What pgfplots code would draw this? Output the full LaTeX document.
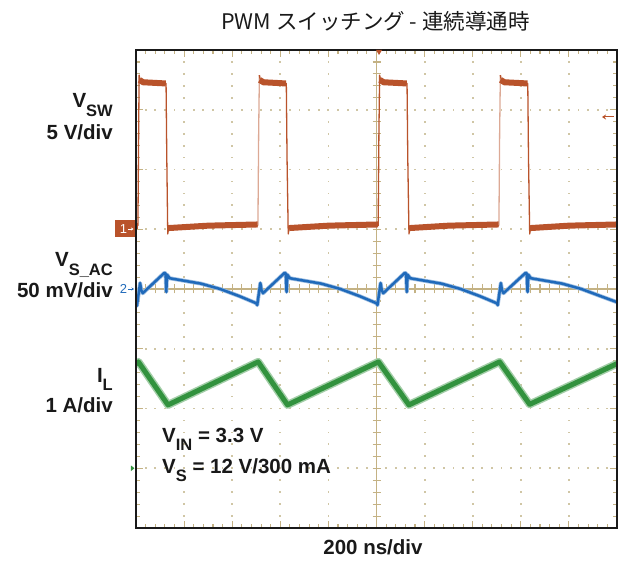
\documentclass[border=0pt]{standalone}
\usepackage{fontspec}
\setmainfont{Liberation Sans}
\newfontfamily\cjk{Noto Sans CJK JP}
\usepackage{pgfplots}
\pgfplotsset{compat=1.18}
\usetikzlibrary{arrows.meta}
\definecolor{swc}{RGB}{185,83,43}
\definecolor{acc}{RGB}{32,106,186}
\definecolor{ilc}{RGB}{50,146,62}
\definecolor{gridc}{RGB}{208,198,165}
\definecolor{tickc}{RGB}{196,178,132}
\newcommand\lab{\bfseries\fontsize{20.5}{24}\selectfont}
\newcommand\sub[1]{\raisebox{-8.5pt}{\fontsize{16.5}{16.5}\selectfont #1}}
\begin{document}
\begin{tikzpicture}
% ---------------- graticule ----------------
\begin{scope}[x=48.1pt,y=59.75pt]
 \foreach \j in {1,2,3,5,6,7}{
   \foreach \i in {1,...,49}{
     \fill[gridc] (\i*0.2,\j) ++(-0.9pt,-0.9pt) rectangle ++(1.8pt,1.8pt);
   }
 }
 \foreach \i in {1,2,3,4,6,7,8,9}{
   \foreach \k in {1,...,39}{
     \fill[gridc] (\i,\k*0.2) ++(-0.9pt,-0.9pt) rectangle ++(1.8pt,1.8pt);
   }
 }
 \draw[tickc, line width=1.3pt] (0,4) -- (10,4);
 \draw[tickc, line width=1.3pt] (5,0) -- (5,8);
 \foreach \i in {1,...,49}{ \draw[tickc,line width=1.1pt] (\i*0.2,4) ++(0,-4.5pt) -- ++(0,9pt); }
 \foreach \k in {1,...,39}{ \draw[tickc,line width=1.1pt] (5,\k*0.2) ++(-4pt,0) -- ++(8pt,0); }
 \foreach \i in {1,...,49}{
   \pgfmathsetmacro\L{mod(\i,5)==0 ? 7 : 4}
   \draw[tickc,line width=1.1pt] (\i*0.2,0) -- ++(0,\L pt);
   \draw[tickc,line width=1.1pt] (\i*0.2,8) -- ++(0,-\L pt);
 }
 \foreach \k in {1,...,39}{
   \pgfmathsetmacro\L{mod(\k,5)==0 ? 7 : 4}
   \draw[tickc,line width=1.1pt] (0,\k*0.2) -- ++(\L pt,0);
   \draw[tickc,line width=1.1pt] (10,\k*0.2) -- ++(-\L pt,0);
 }
\end{scope}

% ---------------- channel 3 : I_L (A), 1 A/div, ground at div 1 ----------------
\pgfplotstableread{
t i
0 1.74
10 1.78
133 1.06
508 1.78
630 1.06
1008 1.78
1135 1.06
1512 1.78
1637 1.07
2000 1.75
}\il
\begin{axis}[at={(0,0)}, anchor=south west, scale only axis, width=481pt, height=478pt,
  hide axis, xmin=0, xmax=2000, ymin=-1, ymax=7]
\addplot[ilc!45, line width=8pt, line join=round] table {\il};
\addplot[ilc, line width=5pt, line join=round] table {\il};
\end{axis}

% ---------------- channel 2 : V_S_AC (mV), 50 mV/div, ground at div 4 ----------------
\pgfplotstableread{
t v
0 -12
1 -12.5
4 -14
17 5
22 -1
28 -3.5
118 13.5
123 13
126 -2.5
129 12
140 9
270 4.5
350 0
430 -6
501 -12
504 -13.5
517 5
522 -1
528 -3.5
618 13.5
623 13
626 -2.5
629 12
640 9
770 4.5
850 0
930 -6
1001 -12
1004 -13.5
1017 5
1022 -1
1028 -3.5
1118 13.5
1123 13
1126 -2.5
1129 12
1140 9
1270 4.5
1350 0
1430 -6
1501 -12
1504 -13.5
1517 5
1522 -1
1528 -3.5
1620 13.5
1625 13
1628 -2.5
1631 12
1642 9
1772 4.5
1852 0
1932 -6
2000 -11
}\vac
\begin{axis}[at={(0,0)}, anchor=south west, scale only axis, width=481pt, height=478pt,
  hide axis, xmin=0, xmax=2000, ymin=-200, ymax=200]
\addplot[acc!45, line width=4pt, line join=round] table {\vac};
\addplot[acc, line width=2.5pt, line join=round] table {\vac};
\end{axis}

% ---------------- channel 1 : V_SW (V), 5 V/div, ground at div 5 ----------------
\begin{axis}[at={(0,0)}, anchor=south west, scale only axis, width=481pt, height=478pt,
  hide axis, xmin=0, xmax=2000, ymin=-25, ymax=15]
% edges and full trace
\addplot[swc, line width=1.3pt, line join=round] coordinates {
(0,0.3) (8,0.3) (11,8) (13,12.9) (17,12.4) (125,12.2) (128,6) (132,-0.4) (137,0.3) (507,0.3)};
\addplot[swc!50, line width=1.3pt] coordinates {(507,0.3) (510,8) (513,12.9)};
\addplot[swc, line width=1.3pt, line join=round] coordinates {
(513,12.9) (518,12.4) (625,12.2) (628,6) (633,-0.4) (638,0.3) (1007,0.3) (1010,8) (1013,12.9)
(1018,12.4) (1127,12.2) (1130,6) (1135,-0.4) (1140,0.3) (1509,0.3)};
\addplot[swc!50, line width=1.3pt] coordinates {(1509,0.3) (1512,8) (1515,12.9)};
\addplot[swc, line width=1.3pt, line join=round] coordinates {
(1515,12.9) (1520,12.4) (1629,12.2) (1632,6) (1637,-0.4) (1642,0.3) (2000,0.3)};
% noisy plateaus (band)
\addplot[swc, line width=6pt] coordinates {(0,0.3) (7,0.3)};
\addplot[swc, line width=6pt] coordinates {(14,12.5) (30,12.3) (124,12.2)};
\addplot[swc, line width=6pt] coordinates {(136,0.1) (300,0.3) (506,0.4)};
\addplot[swc, line width=6pt] coordinates {(514,12.5) (530,12.3) (624,12.2)};
\addplot[swc, line width=6pt] coordinates {(637,0.1) (800,0.3) (1006,0.4)};
\addplot[swc, line width=6pt] coordinates {(1014,12.5) (1030,12.3) (1126,12.2)};
\addplot[swc, line width=6pt] coordinates {(1139,0.1) (1300,0.3) (1508,0.4)};
\addplot[swc, line width=6pt] coordinates {(1516,12.5) (1532,12.3) (1628,12.2)};
\addplot[swc, line width=6pt] coordinates {(1641,0.1) (1800,0.3) (2000,0.4)};
\end{axis}

% ---------------- frame ----------------
\draw[black!90, line width=2.4pt] (0,0) rectangle (481pt,478pt);

% ---------------- channel markers ----------------
\fill[swc] (-21pt,291pt) rectangle (-0.5pt,308pt);
\node[white, font=\fontsize{13}{13}\selectfont, anchor=base, inner sep=0pt] at (-12.5pt,294pt) {1};
\draw[white, line width=0.7pt, -{Stealth[length=2.5pt,width=3pt]}] (-8pt,299pt) -- (-2.5pt,299pt);
\node[acc, font=\fontsize{13}{13}\selectfont, anchor=base, inner sep=0pt] at (-12.5pt,234pt) {2};
\draw[acc, line width=0.7pt, -{Stealth[length=2.5pt,width=3pt]}] (-8pt,239pt) -- (-2pt,239pt);
\fill[ilc] (-5pt,57pt) -- (-1.5pt,59.75pt) -- (-5pt,62.5pt) -- cycle;
\fill[swc] (240pt,478pt) -- (246pt,478pt) -- (243pt,473pt) -- cycle;
\draw[swc, line width=1pt, {Stealth[length=4pt,width=5pt]}-] (466pt,411pt) -- (478pt,411pt);

% ---------------- texts ----------------
\node[anchor=base east, inner sep=0pt, text=black!90] at (-23pt,420pt) {\lab V\sub{SW}};
\node[anchor=base east, inner sep=0pt, text=black!90] at (-23pt,388pt) {\lab 5 V/div};
\node[anchor=base east, inner sep=0pt, text=black!90] at (-23pt,261pt) {\lab V\sub{S\_AC}};
\node[anchor=base east, inner sep=0pt, text=black!90] at (-23pt,230pt) {\lab 50 mV/div};
\node[anchor=base east, inner sep=0pt, text=black!90] at (-23pt,146pt) {\lab I\sub{L}};
\node[anchor=base east, inner sep=0pt, text=black!90] at (-23pt,116pt) {\lab 1 A/div};
\node[anchor=base west, inner sep=0pt, text=black!90] at (26pt,86pt) {\lab V\sub{IN} = 3.3 V};
\node[anchor=base west, inner sep=0pt, text=black!90] at (26pt,55pt) {\lab V\sub{S} = 12 V/300 mA};
\node[anchor=base, inner sep=0pt, text=black!90] at (237pt,-26pt) {\lab 200 ns/div};
\node[anchor=base, inner sep=0pt, text=black!90] at (239.5pt,498pt) {\cjk\fontsize{21.5}{24}\selectfont PWM スイッチング - 連続導通時};

\pgfresetboundingbox
\useasboundingbox (-136pt,-35pt) rectangle (488pt,528pt);
\end{tikzpicture}
\end{document}
